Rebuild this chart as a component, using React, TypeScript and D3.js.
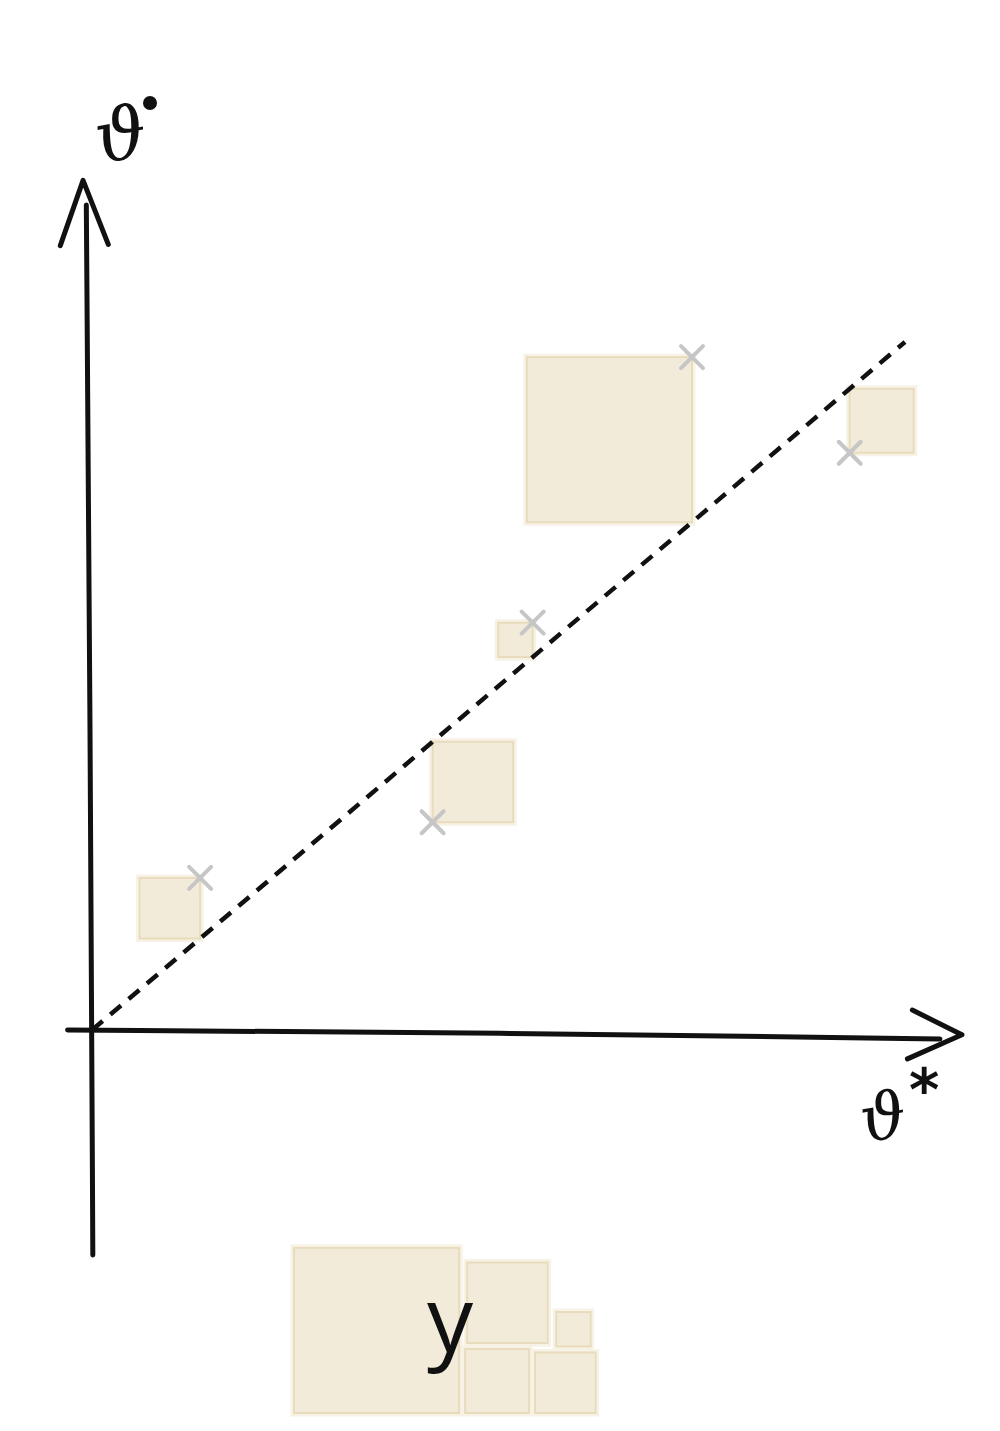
import React from "react";
import * as d3 from "d3";

// true parameter (x) vs estimate (y)
const thetaStar = [0.133, 0.419, 0.542, 0.738, 0.932];
const thetaHat = [0.221, 0.302, 0.592, 0.978, 0.839];
const yLabel = "ϑ";
const xLabel = "ϑ";
const sumLabel = "y";

const W = 1000;
const H = 1431;

const fillCol = "#f2ebda";
const edgeCol = "#e8dcbd";
const glowCol = "#f7f2e6";
const crossCol = "#c6c6c6";
const ink = "#111";

export default function App() {
    const x = d3.scaleLinear().domain([0, 1]).range([92, 905]);
    const y = d3.scaleLinear().domain([0, 1]).range([1030, 342]);

    const pts = thetaStar.map((s, i) => {
        const h = thetaHat[i];
        const px = x(s);
        const py = y(h);
        const side = Math.abs(y(h) - y(s));
        const above = h > s;
        return {
            px,
            py,
            side,
            rx: above ? px - side : px,
            ry: above ? py : py - side,
        };
    });

    // pack the same squares under the plot, biggest first
    const sides = pts.map((p) => p.side).sort((a, b) => b - a);
    const base = 1413;
    const gap = 6;
    const x0 = 294;
    const packed = [];
    packed.push({ x: x0, y: base - sides[0], s: sides[0] });
    const c1 = x0 + sides[0] + gap;
    packed.push({ x: c1 + 2, y: base - sides[2] - gap - sides[1], s: sides[1] });
    packed.push({ x: c1, y: base - sides[2], s: sides[2] });
    const c2 = c1 + sides[2] + gap;
    packed.push({ x: c2, y: base - sides[3], s: sides[3] });
    packed.push({
        x: c2 + sides[3] - sides[4] - 5,
        y: base - sides[3] - gap - sides[4],
        s: sides[4],
    });

    const wobble = d3.line().curve(d3.curveBasis);

    // axes, loosely hand drawn
    const yAxis = wobble([
        [x(0.001), y(-0.327)],
        [x(-0.002), y(0.4)],
        [x(-0.007), y(1.199)],
    ]);
    const yHead = d3.line()([
        [x(-0.039), y(1.14)],
        [x(-0.011), y(1.235)],
        [x(0.02), y(1.142)],
    ]);
    const xAxis = wobble([
        [x(-0.03), y(0)],
        [x(0.5), y(-0.004)],
        [x(1.043), y(-0.013)],
    ]);
    const xHead = d3.line()([
        [x(1.009), y(0.029)],
        [x(1.07), y(-0.007)],
        [x(1.003), y(-0.042)],
    ]);

    const square = (key, rx, ry, s) => (
        <g key={key}>
            <rect x={rx} y={ry} width={s} height={s} fill={glowCol} stroke={glowCol} strokeWidth={7} />
            <rect x={rx} y={ry} width={s} height={s} fill={fillCol} stroke={edgeCol} strokeWidth={2} />
        </g>
    );

    return (
        <svg
            width={W}
            height={H}
            viewBox={`0 0 ${W} ${H}`}
            style={{ position: "absolute", left: 0, top: 0, background: "#fff" }}
        >
            {pts.map((p, i) => square(`sq${i}`, p.rx, p.ry, p.side))}

            <line
                x1={x(0)}
                y1={y(0)}
                x2={x(1)}
                y2={y(1)}
                stroke={ink}
                strokeWidth={4.5}
                strokeDasharray="14 10"
            />

            {pts.map((p, i) => (
                <g key={`cx${i}`} stroke={crossCol} strokeWidth={4} strokeLinecap="round">
                    <line x1={p.px - 11} y1={p.py - 11} x2={p.px + 11} y2={p.py + 11} />
                    <line x1={p.px - 11} y1={p.py + 11} x2={p.px + 11} y2={p.py - 11} />
                </g>
            ))}

            <g fill="none" stroke={ink} strokeWidth={5} strokeLinecap="round" strokeLinejoin="round">
                <path d={yAxis} />
                <path d={yHead} />
                <path d={xAxis} />
                <path d={xHead} />
            </g>

            <text
                x={96}
                y={160}
                fontFamily="DejaVu Serif"
                fontStyle="italic"
                fontSize={72}
                fill={ink}
                transform="rotate(-10 120 140)"
            >
                {yLabel}
            </text>
            <circle cx={150} cy={103} r={7} fill={ink} />

            <text
                x={860}
                y={1138}
                fontFamily="DejaVu Serif"
                fontStyle="italic"
                fontSize={64}
                fill={ink}
                transform="rotate(-10 890 1115)"
            >
                {xLabel}
            </text>
            <text x={909} y={1110} fontFamily="DejaVu Sans" fontWeight="bold" fontSize={58} fill={ink}>
                *
            </text>

            {packed.map((q, i) => square(`pk${i}`, q.x, q.y, q.s))}

            <text x={427} y={1352} fontFamily="Open Sans" fontWeight={400} fontSize={92} fill={ink}>
                {sumLabel}
            </text>
        </svg>
    );
}
